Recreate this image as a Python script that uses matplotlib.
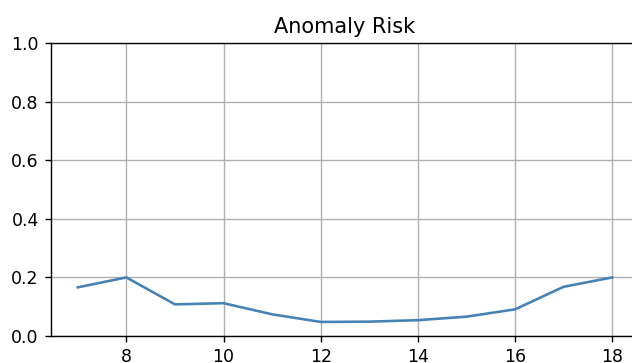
import matplotlib
matplotlib.use('Agg')
import matplotlib.pyplot as plt

# hour of day vs anomaly risk
hours = [7, 8, 9, 10, 11, 12, 13, 14, 15, 16, 17, 18]
risk = [0.166, 0.200, 0.108, 0.112, 0.074, 0.048, 0.049, 0.054, 0.066, 0.091, 0.168, 0.200]

s = 1.25  # reference looks rendered a bit larger than default

fig = plt.figure(figsize=(6.32, 3.63), dpi=100)
ax = fig.add_axes([51 / 632, 27 / 363, 588 / 632, 293 / 363])
ax.plot(hours, risk, color='#4682b4', linewidth=1.5 * s)
ax.set_ylim(0, 1)
ax.set_xlim(6.45, 18.55)
ax.set_title('Anomaly Risk', fontsize=12 * s, pad=6 * s)
ax.grid(True, linewidth=0.8 * s)
ax.tick_params(labelsize=10 * s, length=3.5 * s, width=0.8 * s, pad=3.5 * s)
for sp in ax.spines.values():
    sp.set_linewidth(0.8 * s)

fig.savefig('out.png', dpi=100)
